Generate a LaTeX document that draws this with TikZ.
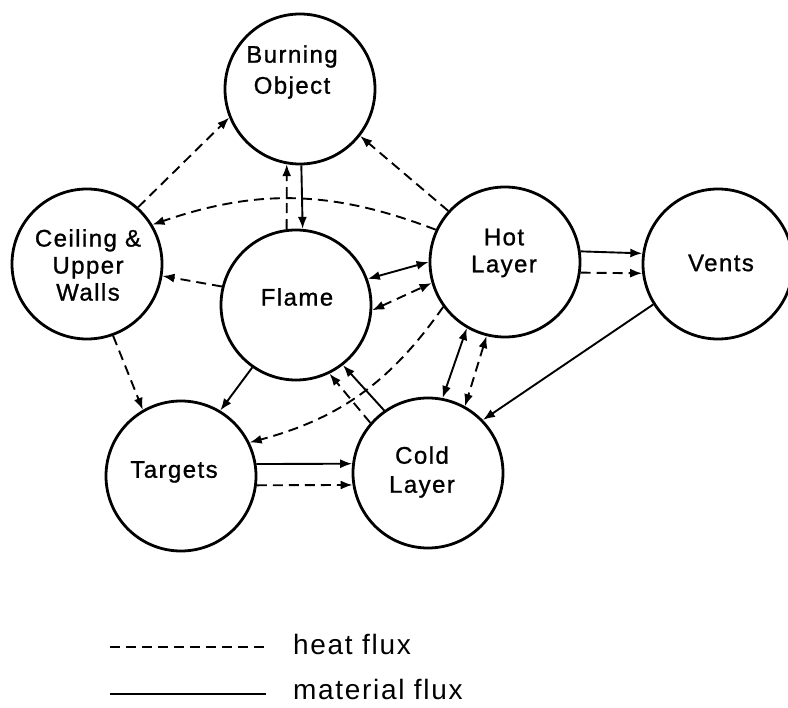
\documentclass[tikz,border=0pt]{standalone}
\usepackage{fontspec}
\usetikzlibrary{arrows.meta}
\newfontfamily\lblfont[LetterSpace=6,FakeBold=1]{Liberation Sans}
\newfontfamily\legfont[LetterSpace=6]{Liberation Sans}
\begin{document}
\begin{tikzpicture}[x=1pt,y=1pt,
  ball/.style={circle,draw,line width=2.8pt,minimum size=150pt,inner sep=0pt},
  lbl/.style={font=\lblfont\fontsize{24}{28}\selectfont,align=center,inner sep=0pt},
  legendtext/.style={font=\legfont\fontsize{28}{32}\selectfont,inner sep=0pt},
  heat/.style={line width=1.9pt,dash pattern=on 10pt off 6pt},
  mat/.style={line width=1.9pt},
  tip/.style={-{Latex[length=12pt,width=9pt]}},
  tips/.style={{Latex[length=12pt,width=9pt]}-{Latex[length=12pt,width=9pt]}}
]
\useasboundingbox (0,0) rectangle (788,-708);
% circles
\node[ball] (BO) at (300,-89) {};
\node[ball] (CW) at (87,-264) {};
\node[ball] (FL) at (296,-305) {};
\node[ball] (HL) at (505,-262) {};
\node[ball] (VE) at (718,-264) {};
\node[ball] (TA) at (181,-476) {};
\node[ball] (CL) at (428,-473) {};
% labels
\node[lbl,font=\lblfont\fontsize{24}{31}\selectfont] (BOt) at (292,-72) {Burning\\Object};
\node[lbl,font=\lblfont\fontsize{24}{27}\selectfont] (CWt) at (88,-265) {Ceiling \&\\Upper\\Walls};
\node[lbl] (FLt) at (297,-297) {Flame};
\node[lbl,font=\lblfont\fontsize{24}{27}\selectfont] (HLt) at (504,-253) {Hot\\Layer};
\node[lbl] (VEt) at (721,-263) {Vents};
\node[lbl] (TAt) at (174,-472) {Targets};
\node[lbl,font=\lblfont\fontsize{24}{29}\selectfont] (CLt) at (422,-472) {Cold\\Layer};
% connectors
\draw[heat,tip] (CW.48) -- (BO.202);
\draw[heat,tip] (HL.138) -- (BO.322);
\draw[heat,tip] (HL.155) to[bend right=20] (CW.31);
\draw[mat,tip] (BO.271) -- (FL.85);
\draw[heat,tip] (FL.97) -- (BO.260);
\draw[heat,tip] (FL.166) -- (CW.351);
\draw[mat,tips] (FL.20) -- (HL.180);
\draw[heat,tips] (FL.356) -- (HL.196);
\draw[mat,tip] (HL.8) -- (VE.172);
\draw[heat,tip] (HL.352) -- (VE.187);
\draw[mat,tip] (VE.212) -- (CL.44);
\draw[mat,tips] (HL.240) -- (CL.79);
\draw[heat,tips] (HL.256) -- (CL.61);
\draw[mat,tip] (CL.125) -- (FL.308);
\draw[heat,tip] (CL.139) -- (FL.296);
\draw[mat,tip] (FL.235) -- (TA.59);
\draw[heat,tip] (CW.290) -- (TA.120);
\draw[heat,tip] (HL.216) to[bend left=20] (TA.26);
\draw[mat,tip] (TA.9) -- (CL.173);
\draw[heat,tip] (TA.353) -- (CL.189);
% legend
\coordinate (h1) at (110,-647);
\coordinate (h2) at (266,-647);
\coordinate (m1) at (110,-694);
\coordinate (m2) at (266,-694);
\draw[heat] (h1) -- (h2);
\draw[mat] (m1) -- (m2);
\node[legendtext,anchor=base west] (ht) at (293,-654) {heat flux};
\node[legendtext,anchor=base west] (mt) at (293,-699) {material flux};
\end{tikzpicture}
\end{document}
